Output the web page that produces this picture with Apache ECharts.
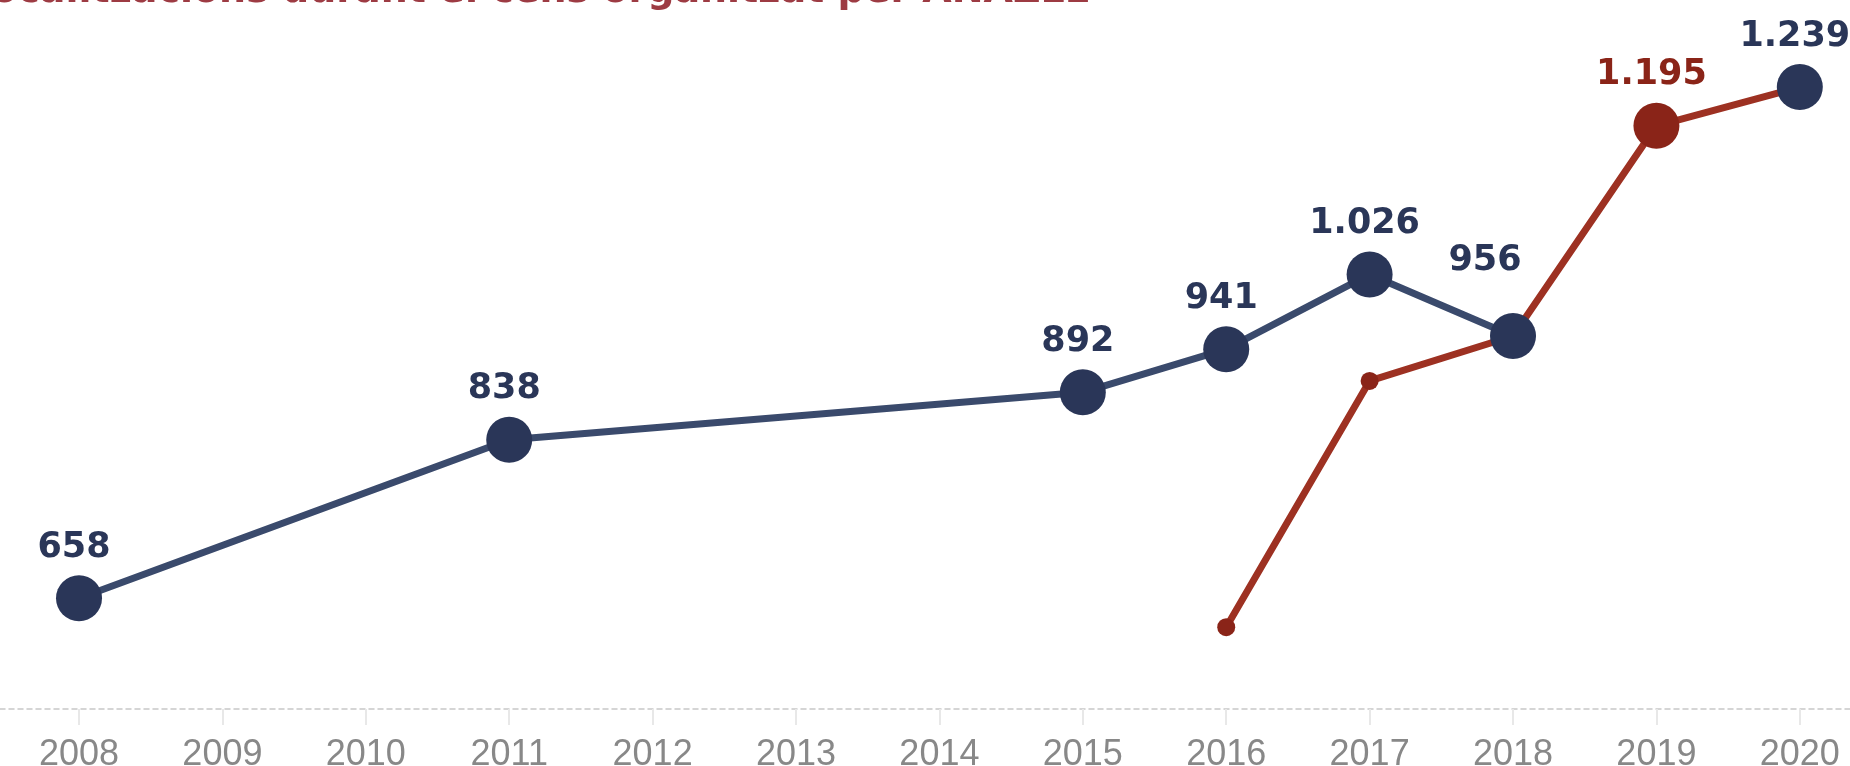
<!DOCTYPE html>
<html>
<head>
<meta charset="utf-8">
<script src="https://cdn.jsdelivr.net/npm/echarts@6/dist/echarts.min.js"></script>
<style>
html, body { margin: 0; padding: 0; background: #fff; }
#chart { width: 1850px; height: 766px; }
</style>
</head>
<body>
<div id="chart"></div>
<script>
// anys del cens
var years = [2008, 2009, 2010, 2011, 2012, 2013, 2014, 2015, 2016, 2017, 2018, 2019, 2020];
// localitzacions (sèrie blava), null = sense dada
var blueValues = [658, null, null, 838, null, null, null, 892, 941, 1026, 956, null, 1239];
// sèrie vermella
var redValues = [null, null, null, null, null, null, null, null, 625, 905, 956, 1195, 1239];
// any on la línia blava es talla
var blueBreakYear = 2019;
var redLabelYear = 2019;
// etiqueta desplaçada per no tapar la línia vermella
var shiftedLabelYear = 2018;

var titleText = 'Localitzacions durant el cens organitzat per ANAZLE';

function fmt(v) {
  if (v >= 1000) {
    return Math.floor(v / 1000) + '.' + String(v % 1000).padStart(3, '0');
  }
  return String(v);
}

var blueLine = [];
var bluePoints = [];
var redData = [];
for (var i = 0; i < years.length; i++) {
  if (blueValues[i] !== null) {
    var item = { value: [years[i], blueValues[i]] };
    if (years[i] === shiftedLabelYear) item.label = { offset: [-28, -25] };
    if (years[i] < blueBreakYear) blueLine.push(item);
    else bluePoints.push(item);
  }
  if (redValues[i] !== null) redData.push([years[i], redValues[i]]);
}

var labelStyle = {
  show: true,
  position: 'top',
  distance: 10,
  offset: [-5, 0],
  fontFamily: 'DejaVu Sans',
  fontWeight: 'bold',
  fontSize: 35,
  color: '#2a3658',
  formatter: function (p) { return fmt(p.value[1]); }
};

var myChart = echarts.init(document.getElementById('chart'));
myChart.setOption({
  animation: false,
  title: {
    text: titleText,
    left: -38,
    top: -32,
    textStyle: {
      fontFamily: 'DejaVu Sans',
      fontWeight: 'bold',
      fontSize: 38,
      color: '#9d3b43'
    }
  },
  grid: { left: 0, right: 0, top: 0, bottom: 57, containLabel: false, outerBoundsMode: 'none' },
  xAxis: {
    type: 'value',
    min: 2007.449,
    max: 2020.35,
    splitLine: { show: false },
    axisLine: {
      show: true,
      lineStyle: { color: '#c8c8c8', width: 1.5, type: [5, 4] }
    },
    axisTick: {
      show: true,
      length: 16,
      customValues: years,
      lineStyle: { color: '#e8e8e8', width: 2 }
    },
    axisLabel: {
      customValues: years,
      margin: 28,
      fontFamily: 'Liberation Sans',
      fontSize: 36,
      color: '#888888',
      formatter: function (v) { return String(v); }
    }
  },
  yAxis: {
    type: 'value',
    min: 532,
    max: 1338,
    show: false,
    splitLine: { show: false }
  },
  series: [
    {
      name: 'vermella',
      type: 'line',
      data: redData,
      z: 2,
      lineStyle: { color: '#9d3122', width: 7 },
      itemStyle: { color: '#8a2418' },
      symbol: 'circle',
      symbolSize: function (val) { return val[0] === redLabelYear ? 46 : 18; },
      label: {
        show: true,
        position: 'top',
        distance: 10,
        offset: [-5, 0],
        fontFamily: 'DejaVu Sans',
        fontWeight: 'bold',
        fontSize: 35,
        color: '#8a2418',
        formatter: function (p) { return p.value[0] === redLabelYear ? fmt(p.value[1]) : ''; }
      }
    },
    {
      name: 'blava',
      type: 'line',
      data: blueLine,
      z: 3,
      lineStyle: { color: '#3a4a6c', width: 7 },
      itemStyle: { color: '#2a3658' },
      symbol: 'circle',
      symbolSize: 46,
      label: labelStyle
    },
    {
      name: 'blava 2020',
      type: 'scatter',
      data: bluePoints,
      z: 3,
      itemStyle: { color: '#2a3658', opacity: 1 },
      symbol: 'circle',
      symbolSize: 46,
      label: labelStyle
    }
  ]
});
</script>
</body>
</html>
